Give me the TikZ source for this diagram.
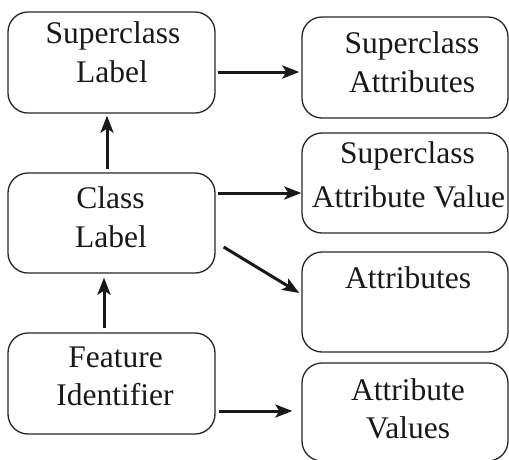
\documentclass[tikz,border=0pt]{standalone}
\usepackage{fontspec}
\setmainfont{Liberation Serif}
\usetikzlibrary{arrows.meta,calc}
\begin{document}
\begin{tikzpicture}[x=1pt,y=-1pt,
  box/.style={draw=black!85,line width=1.3pt,rounded corners=20pt,inner sep=0pt},
  txt/.style={anchor=base,inner sep=0pt,font=\fontsize{31.5}{39}\selectfont,text=black!90},
  arr/.style={line width=3pt,draw=black!90,-{Stealth[length=17pt,width=13pt,inset=4pt]}}]
\clip (0,0) rectangle (509,459);
% boxes
\node[box,minimum width=207pt,minimum height=101pt] (sl) at (111.5,62.5) {};
\node[box,minimum width=207pt,minimum height=100pt] (cl) at (111.5,223) {};
\node[box,minimum width=207pt,minimum height=101pt] (fi) at (111.5,383.5) {};
\node[box,minimum width=206pt,minimum height=101pt] (sa) at (405,67.5) {};
\node[box,minimum width=206pt,minimum height=100pt] (sav) at (405,183) {};
\node[box,minimum width=206pt,minimum height=100pt] (at) at (405,302) {};
\node[box,minimum width=206pt,minimum height=98pt] (av) at (405,412) {};
% texts
\node[txt] (t1) at (113,43) {Superclass};
\node[txt] (t2) at (112,82) {Label};
\node[txt] (t3) at (110.5,208) {Class};
\node[txt] (t4) at (111,247) {Label};
\node[txt] (t5) at (115.5,367) {Feature};
\node[txt] (t6) at (115,405) {Identifier};
\node[txt] (t7) at (412,53) {Superclass};
\node[txt] (t8) at (412,92) {Attributes};
\node[txt] (t9) at (407.5,163) {Superclass};
\node[txt] (t10) at (408.5,207) {Attribute Value};
\node[txt] (t11) at (408,288) {Attributes};
\node[txt] (t12) at (408,400) {Attribute};
\node[txt] (t13) at (408,438) {Values};
% arrows
\draw[arr] ($(sl.east)+(2,9.5)$) -- ($(sa.west)+(-2,4.5)$);
\draw[arr] ($(cl.north)+(-4.5,-3)$) -- ($(sl.south)+(-4.5,2)$);
\draw[arr] ($(cl.east)+(2,-30)$) -- ($(sav.west)+(0,10)$);
\draw[arr] ($(cl.east)+(8,24)$) -- ($(at.west)+(-2,-9)$);
\draw[arr] ($(fi.north)+(-7.5,-4)$) -- ($(cl.south)+(-7.5,4)$);
\draw[arr] ($(fi.east)+(3,27.5)$) -- ($(av.west)+(-9,-1)$);
\end{tikzpicture}
\end{document}
